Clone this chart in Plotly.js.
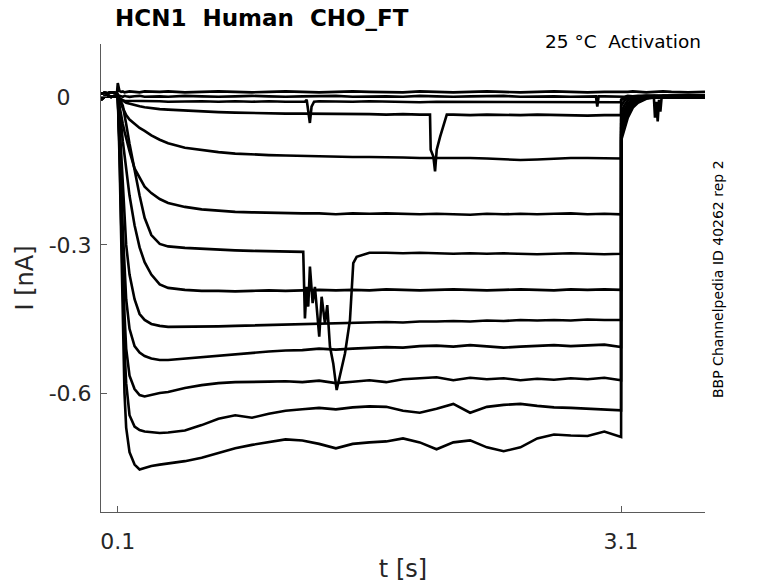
<!DOCTYPE html>
<html>
<head>
<meta charset="utf-8">
<script src="https://cdn.plot.ly/plotly-3.0.1.min.js"></script>
<style>html,body{margin:0;padding:0;background:#fff;}#chart{width:778px;height:583px;}</style>
</head>
<body>
<div id="chart"></div>
<script>
// ---- time grids (s) ----
const tPre  = [0, 0.02, 0.04, 0.06, 0.08, 0.095];
const tStep = [0.10, 0.11, 0.12, 0.13, 0.14, 0.15, 0.17, 0.20, 0.23, 0.26,
               0.30, 0.35, 0.40, 0.50, 0.60, 0.70, 0.80, 0.90, 1.00, 1.10,
               1.20, 1.30, 1.40, 1.50, 1.60, 1.70, 1.80, 1.90, 2.00, 2.10,
               2.20, 2.30, 2.40, 2.50, 2.60, 2.70, 2.80, 2.90, 3.00, 3.10];
const tTail = [3.1005, 3.12, 3.14, 3.17, 3.20, 3.25, 3.30, 3.35, 3.40, 3.50, 3.60];

// ---- pre-step holding current (nA) ----
const preUpper = [0.006, 0.008, 0.007, 0.009, 0.008, 0.007];
const preLower = [-0.006, 0.000, 0.001, 0.000, 0.001, 0.000];

// ---- currents during the activation step (nA) ----
const stepA1 = [0.028, 0.012, 0.010, 0.011, 0.009, 0.010, 0.011, 0.010, 0.009, 0.011, 0.010, 0.010, 0.011, 0.009, 0.010, 0.011, 0.010, 0.009, 0.010, 0.011, 0.010, 0.009, 0.010, 0.011, 0.010, 0.010, 0.009, 0.011, 0.010, 0.009, 0.010, 0.011, 0.010, 0.009, 0.010, 0.011, 0.010, 0.009, 0.010, 0.010];
const stepA2 = [0.004, 0.002, 0.001, 0.000, 0.002, 0.001, 0.000, 0.001, 0.002, 0.000, 0.001, 0.001, 0.000, 0.002, 0.001, 0.000, 0.001, 0.002, 0.001, 0.000, 0.001, 0.001, 0.002, 0.000, 0.001, 0.001, 0.000, 0.002, 0.001, 0.000, 0.001, 0.001, 0.002, 0.000, 0.001, 0.001, 0.000, 0.001, 0.001, 0.000];
const stepA3 = [0.000, -0.004, -0.006, -0.007, -0.008, -0.008, -0.009, -0.008, -0.009, -0.009, -0.008, -0.009, -0.010, -0.009, -0.009, -0.010, -0.009, -0.010, -0.009, -0.010, -0.010, -0.009, -0.010, -0.010, -0.009, -0.010, -0.010, -0.011, -0.010, -0.010, -0.011, -0.010, -0.010, -0.011, -0.010, -0.011, -0.010, -0.011, -0.010, -0.011];
const stepB = [0, -0.003, -0.005, -0.008, -0.010, -0.012, -0.014, -0.016, -0.019, -0.021, -0.023, -0.025, -0.026, -0.028, -0.030, -0.031, -0.032, -0.033, -0.033, -0.034, -0.034, -0.034, -0.035, -0.035, -0.035, -0.036, -0.035, -0.036, -0.036, -0.036, -0.037, -0.036, -0.037, -0.037, -0.036, -0.037, -0.037, -0.038, -0.037, -0.037];
const stepC = [0, -0.008, -0.016, -0.024, -0.031, -0.037, -0.046, -0.055, -0.063, -0.069, -0.078, -0.087, -0.094, -0.103, -0.108, -0.112, -0.115, -0.117, -0.118, -0.119, -0.120, -0.121, -0.121, -0.122, -0.122, -0.122, -0.123, -0.124, -0.124, -0.123, -0.124, -0.125, -0.126, -0.128, -0.127, -0.125, -0.124, -0.124, -0.124, -0.125];
const stepD = [0, -0.020, -0.035, -0.055, -0.070, -0.085, -0.110, -0.145, -0.165, -0.182, -0.195, -0.207, -0.215, -0.223, -0.228, -0.231, -0.233, -0.234, -0.235, -0.235, -0.236, -0.236, -0.238, -0.236, -0.237, -0.236, -0.237, -0.238, -0.237, -0.238, -0.239, -0.237, -0.238, -0.237, -0.238, -0.237, -0.236, -0.238, -0.237, -0.238];
const stepE = [0, -0.005, -0.010, -0.018, -0.035, -0.055, -0.095, -0.150, -0.200, -0.245, -0.280, -0.298, -0.303, -0.306, -0.308, -0.310, -0.311, -0.312, -0.313, -0.314, -0.314, -0.315, -0.315, -0.316, -0.316, -0.316, -0.317, -0.316, -0.317, -0.318, -0.317, -0.318, -0.317, -0.318, -0.319, -0.318, -0.317, -0.318, -0.319, -0.318];
const stepF = [0, -0.025, -0.055, -0.090, -0.120, -0.150, -0.200, -0.260, -0.305, -0.335, -0.360, -0.380, -0.387, -0.391, -0.393, -0.393, -0.394, -0.393, -0.392, -0.393, -0.392, -0.391, -0.392, -0.391, -0.392, -0.390, -0.391, -0.392, -0.391, -0.390, -0.391, -0.392, -0.391, -0.390, -0.391, -0.392, -0.390, -0.391, -0.390, -0.391];
const stepG = [0, -0.050, -0.120, -0.190, -0.250, -0.300, -0.360, -0.410, -0.440, -0.452, -0.460, -0.464, -0.466, -0.466, -0.466, -0.465, -0.464, -0.463, -0.462, -0.461, -0.460, -0.459, -0.459, -0.458, -0.457, -0.456, -0.457, -0.455, -0.455, -0.454, -0.455, -0.453, -0.454, -0.452, -0.453, -0.452, -0.453, -0.451, -0.452, -0.452];
const stepH = [0, -0.070, -0.170, -0.270, -0.350, -0.410, -0.470, -0.505, -0.518, -0.525, -0.530, -0.533, -0.533, -0.530, -0.527, -0.524, -0.521, -0.518, -0.516, -0.514, -0.513, -0.510, -0.512, -0.510, -0.508, -0.507, -0.508, -0.505, -0.504, -0.506, -0.503, -0.505, -0.508, -0.506, -0.505, -0.503, -0.505, -0.504, -0.502, -0.507];
const stepI = [0, -0.090, -0.210, -0.340, -0.440, -0.510, -0.565, -0.592, -0.604, -0.607, -0.604, -0.600, -0.598, -0.590, -0.584, -0.580, -0.578, -0.578, -0.577, -0.576, -0.578, -0.575, -0.580, -0.577, -0.574, -0.578, -0.572, -0.570, -0.568, -0.574, -0.569, -0.572, -0.570, -0.574, -0.571, -0.573, -0.570, -0.572, -0.569, -0.574];
const stepJ = [0, -0.100, -0.250, -0.400, -0.510, -0.580, -0.645, -0.668, -0.675, -0.678, -0.680, -0.681, -0.680, -0.676, -0.665, -0.652, -0.645, -0.650, -0.642, -0.636, -0.633, -0.630, -0.633, -0.629, -0.627, -0.628, -0.636, -0.640, -0.632, -0.622, -0.640, -0.628, -0.624, -0.622, -0.626, -0.629, -0.630, -0.632, -0.634, -0.635];
const stepK = [0, -0.120, -0.300, -0.480, -0.600, -0.670, -0.720, -0.745, -0.755, -0.752, -0.748, -0.745, -0.743, -0.738, -0.731, -0.722, -0.712, -0.705, -0.700, -0.694, -0.696, -0.703, -0.712, -0.703, -0.700, -0.698, -0.692, -0.700, -0.714, -0.700, -0.696, -0.710, -0.718, -0.710, -0.692, -0.684, -0.686, -0.687, -0.678, -0.689];

// ---- tail currents after the step (nA) ----
const tailA1 = [0.010, 0.009, 0.010, 0.011, 0.010, 0.009, 0.010, 0.011, 0.010, 0.009, 0.010];
const tailA2 = [0.001, 0.000, 0.002, 0.001, 0.000, 0.001, 0.002, 0.001, 0.000, 0.001, 0.001];
const tailA3 = [-0.006, -0.004, -0.003, -0.002, -0.002, -0.002, -0.003, -0.002, -0.002, -0.003, -0.002];
const tailB = [-0.006, -0.002, 0.000, 0.001, 0.001, 0.002, 0.001, 0.002, 0.001, 0.002, 0.002];
const tailC = [-0.018, -0.008, -0.002, 0.001, 0.002, 0.001, 0.002, 0.001, 0.002, 0.002, 0.001];
const tailD = [-0.032, -0.017, -0.007, -0.001, 0.001, 0.002, 0.001, 0.002, 0.002, 0.001, 0.002];
const tailE = [-0.045, -0.026, -0.013, -0.004, 0.000, 0.002, 0.001, 0.002, 0.001, 0.002, 0.002];
const tailF = [-0.054, -0.033, -0.018, -0.007, -0.002, 0.001, 0.002, 0.001, 0.002, 0.002, 0.001];
const tailG = [-0.062, -0.040, -0.023, -0.010, -0.004, 0.000, 0.001, 0.001, 0.002, 0.001, 0.002];
const tailH = [-0.070, -0.046, -0.028, -0.013, -0.006, -0.001, 0.001, 0.002, 0.001, 0.002, 0.002];
const tailI = [-0.076, -0.052, -0.032, -0.016, -0.008, -0.002, 0.000, 0.001, 0.001, 0.002, 0.001];
const tailJ = [-0.082, -0.058, -0.037, -0.019, -0.010, -0.003, 0.000, 0.001, 0.002, 0.001, 0.002];
const tailK = [-0.088, -0.064, -0.042, -0.022, -0.012, -0.004, -0.001, 0.001, 0.002, 0.002, 0.002];

// ---- recording artefacts ----
const artA2T = [2.950, 2.958, 2.966];
const artA2I = [0.001, -0.020, 0.001];
const artA3T = [1.215, 1.226, 1.235, 1.245, 1.255, 1.270];
const artA3I = [-0.010, -0.006, -0.033, -0.053, -0.020, -0.010];
const artBT = [1.961, 1.965, 1.981, 1.991, 2.001, 2.021, 2.040, 2.061];
const artBI = [-0.036, -0.107, -0.121, -0.151, -0.107, -0.081, -0.060, -0.036];
const artET = [1.2054, 1.2155, 1.2256, 1.2352, 1.2453, 1.2614, 1.2751, 1.3008, 1.3151, 1.3348,
               1.3485, 1.3646, 1.3843, 1.4046, 1.4243, 1.4541, 1.4839, 1.5036, 1.5238];
const artEI = [-0.314, -0.449, -0.385, -0.425, -0.344, -0.418, -0.385, -0.486, -0.405, -0.459,
               -0.422, -0.506, -0.540, -0.594, -0.567, -0.520, -0.452, -0.337, -0.324];
const artHT = [3.295, 3.302, 3.310, 3.318, 3.326, 3.334, 3.342];
const artHI = [0.001, -0.042, -0.010, -0.050, -0.006, -0.030, 0.001];

// ---- assemble ----
function build(pre, step, tail) {
  return { x: tPre.concat(tStep, tTail), y: pre.concat(step, tail) };
}
function withArtefact(tr, at, ai) {
  const t0 = at[0], t1 = at[at.length - 1];
  const pts = [];
  for (let k = 0; k < tr.x.length; k++) {
    if (tr.x[k] < t0 || tr.x[k] > t1) pts.push([tr.x[k], tr.y[k]]);
  }
  for (let k = 0; k < at.length; k++) pts.push([at[k], ai[k]]);
  pts.sort((a, b) => a[0] - b[0]);
  return { x: pts.map(p => p[0]), y: pts.map(p => p[1]) };
}

const sweeps = [
  build(preUpper, stepA1, tailA1),
  withArtefact(build(preLower, stepA2, tailA2), artA2T, artA2I),
  withArtefact(build(preLower, stepA3, tailA3), artA3T, artA3I),
  withArtefact(build(preUpper, stepB, tailB), artBT, artBI),
  build(preLower, stepC, tailC),
  build(preUpper, stepD, tailD),
  withArtefact(build(preLower, stepE, tailE), artET, artEI),
  build(preUpper, stepF, tailF),
  build(preLower, stepG, tailG),
  withArtefact(build(preUpper, stepH, tailH), artHT, artHI),
  build(preLower, stepI, tailI),
  build(preUpper, stepJ, tailJ),
  build(preLower, stepK, tailK)
];

const data = sweeps.map(s => ({
  type: 'scatter', mode: 'lines', x: s.x, y: s.y,
  line: { color: '#000000', width: 2.6 }, hoverinfo: 'skip'
}));

const axisCol = '#5a5a5a';
const layout = {
  width: 778, height: 583,
  margin: { l: 101, r: 73, t: 44, b: 71 },
  paper_bgcolor: '#ffffff', plot_bgcolor: '#ffffff',
  showlegend: false,
  font: { family: 'DejaVu Sans', color: '#262626' },
  title: {
    text: '<b>HCN1\u00a0 Human\u00a0 CHO_FT</b>',
    font: { family: 'DejaVu Sans', size: 23, color: '#000000' },
    xref: 'container', yref: 'container',
    x: 115 / 778, xanchor: 'left', y: 1 - 18 / 583, yanchor: 'middle'
  },
  xaxis: {
    range: [0, 3.6], tickvals: [0.1, 3.1], ticktext: ['0.1', '3.1'],
    ticks: 'inside', ticklen: 6, tickcolor: axisCol, tickwidth: 1,
    showline: true, linecolor: axisCol, linewidth: 1, mirror: false,
    showgrid: false, zeroline: false,
    tickfont: { size: 22, color: '#262626' }, ticklabelstandoff: 10,
    title: { text: 't [s]', font: { size: 24, color: '#262626' }, standoff: 6 },
    automargin: false, fixedrange: true
  },
  yaxis: {
    range: [-0.841, 0.107], tickvals: [0, -0.3, -0.6],
    ticktext: ['0\u00a0\u00a0\u00a0', '-0.3', '-0.6'],
    ticks: 'inside', ticklen: 6, tickcolor: axisCol, tickwidth: 1,
    showline: true, linecolor: axisCol, linewidth: 1, mirror: false,
    showgrid: false, zeroline: false,
    tickfont: { size: 22, color: '#262626' }, ticklabelstandoff: 4,
    title: { text: 'I [nA]', font: { size: 24, color: '#262626' }, standoff: 8 },
    automargin: false, fixedrange: true
  },
  annotations: [
    {
      text: '25 °C\u00a0 Activation', xref: 'paper', yref: 'paper',
      x: (703 - 101) / 604, y: (512 - 41) / 468, xanchor: 'right', yanchor: 'middle',
      showarrow: false, font: { size: 18.5, color: '#000000' }
    },
    {
      text: 'BBP Channelpedia ID 40262 rep 2', xref: 'paper', yref: 'paper',
      x: (718 - 101) / 604, y: (512 - 279) / 468, xanchor: 'center', yanchor: 'middle',
      textangle: -90, showarrow: false,
      font: { family: 'DejaVu Sans', size: 14, color: '#000000' }
    }
  ]
};

Plotly.newPlot('chart', data, layout, { staticPlot: true, displayModeBar: false });
</script>
</body>
</html>
